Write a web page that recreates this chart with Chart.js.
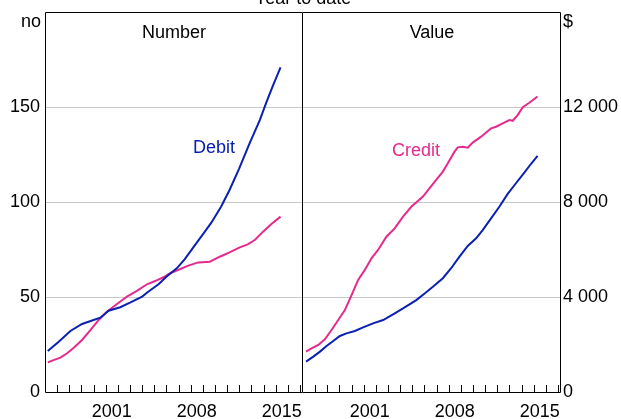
<!DOCTYPE html>
<html>
<head>
<meta charset="utf-8">
<script src="https://cdn.jsdelivr.net/npm/chart.js@4/dist/chart.umd.min.js"></script>
<style>
  html, body { margin: 0; padding: 0; background: #fff; }
  #wrap { position: relative; width: 621px; height: 419px; overflow: hidden; }
  #numCanvas { position: absolute; left: 0; top: 0; }
  #valCanvas { position: absolute; left: 303px; top: 0; }
</style>
</head>
<body>
<div id="wrap">
  <canvas id="numCanvas" width="303" height="419"></canvas>
  <canvas id="valCanvas" width="318" height="419"></canvas>
</div>
<script>
// Number of transactions, year to date (no)
const numDebitYears = [1996.23, 1997.13, 1998.09, 1999.05, 2000.0, 2000.56, 2001.24, 2002.2, 2003.0, 2004.0, 2004.5, 2005.35, 2006.0, 2006.85, 2007.5, 2008.2, 2009.0, 2009.7, 2010.5, 2011.2, 2012.0, 2012.85, 2013.7, 2014.2, 2014.8, 2015.4];
const numDebit = [21.6, 26.5, 32.1, 35.8, 37.9, 39.1, 42.8, 44.6, 47.0, 50.2, 52.8, 56.7, 60.7, 65.1, 69.8, 76.0, 83.0, 89.1, 97.5, 106.3, 117.7, 130.9, 143.2, 151.9, 161.6, 170.9];

const numCreditYears = [1996.23, 1996.7, 1997.27, 1997.82, 1998.37, 1999.05, 1999.74, 2000.42, 2001.1, 2001.93, 2002.75, 2003.57, 2004.4, 2005.07, 2005.76, 2006.3, 2007.1, 2007.8, 2008.63, 2009.58, 2010.4, 2011.2, 2012.0, 2012.7, 2013.28, 2013.96, 2014.65, 2015.4];
const numCredit = [15.6, 16.8, 18.1, 20.4, 23.3, 27.4, 32.6, 37.9, 42.3, 46.3, 50.2, 53.2, 56.7, 58.4, 60.4, 62.5, 64.6, 66.5, 68.2, 68.6, 71.2, 73.5, 76.0, 77.7, 80.0, 84.4, 88.4, 92.3];

// Value of transactions, year to date ($)
const valCreditYears = [1996.25, 1996.7, 1997.26, 1997.8, 1998.35, 1998.9, 1999.45, 2000.0, 2000.54, 2001.09, 2001.64, 2002.18, 2002.87, 2003.55, 2004.24, 2004.92, 2005.88, 2006.43, 2006.97, 2007.52, 2007.93, 2008.48, 2008.75, 2009.16, 2009.57, 2009.98, 2010.67, 2011.49, 2011.9, 2012.45, 2013.0, 2013.27, 2013.68, 2014.1, 2014.64, 2015.32];
const valCredit = [1700, 1840, 1980, 2220, 2610, 3030, 3450, 4080, 4720, 5140, 5630, 5980, 6540, 6890, 7380, 7800, 8230, 8580, 8930, 9280, 9630, 10120, 10300, 10330, 10290, 10500, 10750, 11100, 11170, 11310, 11450, 11420, 11660, 11990, 12180, 12440];

const valDebitYears = [1996.25, 1996.85, 1997.4, 1997.94, 1998.49, 1999.04, 1999.58, 2000.27, 2000.95, 2001.77, 2002.6, 2003.42, 2004.24, 2005.33, 2006.02, 2006.7, 2007.52, 2008.2, 2008.89, 2009.57, 2010.26, 2010.8, 2011.49, 2012.17, 2012.86, 2013.54, 2014.23, 2014.77, 2015.32];
const valDebit = [1280, 1490, 1700, 1940, 2150, 2360, 2470, 2570, 2720, 2890, 3030, 3270, 3520, 3870, 4150, 4430, 4790, 5210, 5700, 6150, 6470, 6820, 7310, 7800, 8340, 8790, 9240, 9600, 9940];

const yearLabels = [2001, 2008, 2015];
const yearMarks = [1997, 1998, 1999, 2000, 2001, 2002, 2003, 2004, 2005, 2006, 2007, 2008, 2009, 2010, 2011, 2012, 2013, 2014, 2015, 2016, 2017];

const BLUE = '#0a20b0';
const PINK = '#e62a8d';
const FONT = '"Liberation Sans", Arial, sans-serif';

function pairs(xs, ys) {
    return xs.map((x, i) => ({ x: x, y: ys[i] }));
}

function fmtThousands(v) {
    return String(v).replace(/\B(?=(\d{3})+(?!\d))/g, ' ');
}

// frame, inward year ticks and text labels
function panelPlugin(opts) {
    return {
        id: 'panel',
        afterDraw(chart) {
            const ctx = chart.ctx;
            const a = chart.chartArea;
            const xs = chart.scales.x;
            const l = Math.round(a.left) + 0.5;
            const r = Math.round(a.right) - 0.5;
            const t = Math.round(a.top) + 0.5;
            const b = Math.round(a.bottom) + 0.5;
            ctx.save();
            ctx.strokeStyle = '#000';
            ctx.lineWidth = 1;
            ctx.beginPath();
            if (opts.leftEdge) {
                ctx.moveTo(l, b);
                ctx.lineTo(l, t);
            } else {
                ctx.moveTo(l - 1, t);
            }
            ctx.lineTo(r, t);
            ctx.lineTo(r, b);
            ctx.lineTo(opts.leftEdge ? l : l - 1, b);
            yearMarks.forEach(y => {
                const px = Math.round(xs.getPixelForValue(y)) + 0.5;
                ctx.moveTo(px, a.bottom);
                ctx.lineTo(px, a.bottom - 7);
            });
            ctx.stroke();

            ctx.fillStyle = '#000';
            ctx.font = '18px ' + FONT;
            ctx.textBaseline = 'alphabetic';
            ctx.textAlign = 'center';
            ctx.fillText('Year to date', opts.titleX, 4);
            ctx.fillText(opts.panelTitle, (a.left + a.right) / 2, 38);

            ctx.textAlign = opts.unitAlign;
            ctx.fillText(opts.unit, opts.unitX, 27);

            ctx.textAlign = 'left';
            ctx.fillStyle = opts.seriesColor;
            ctx.fillText(opts.seriesLabel, opts.seriesX, opts.seriesY);
            ctx.restore();
        }
    };
}

function xAxis() {
    return {
        type: 'linear',
        min: 1996,
        max: 2017.25,
        grid: { display: false, drawTicks: false },
        border: { display: false },
        afterBuildTicks: axis => {
            axis.ticks = yearLabels.map(y => ({ value: y + 0.5 }));
        },
        afterFit: axis => {
            axis.height = 27;
            axis.paddingLeft = 0;
            axis.paddingRight = 0;
        },
        ticks: {
            autoSkip: false,
            maxRotation: 0,
            padding: 9,
            color: '#000',
            font: { family: FONT, size: 18 },
            callback: v => String(Math.floor(v))
        }
    };
}

function baseOptions() {
    return {
        responsive: false,
        animation: false,
        layout: { padding: { top: 12, left: 0, right: 0, bottom: 0 } },
        plugins: { legend: { display: false }, tooltip: { enabled: false } },
        elements: { point: { radius: 0 }, line: { borderWidth: 2, tension: 0 } }
    };
}

const numOptions = baseOptions();
numOptions.scales = {
    x: xAxis(),
    y: {
        position: 'left',
        min: 0,
        max: 200,
        grid: {
            drawTicks: false,
            color: c => (c.tick.value === 0 || c.tick.value === 200) ? 'rgba(0,0,0,0)' : '#c8c8c8',
            lineWidth: 1
        },
        border: { display: false },
        afterFit: axis => {
            axis.width = 45;
            axis.paddingTop = 0;
            axis.paddingBottom = 0;
        },
        ticks: {
            stepSize: 50,
            padding: 5,
            color: '#000',
            font: { family: FONT, size: 18 },
            callback: v => v === 200 ? '' : String(v)
        }
    }
};

new Chart(document.getElementById('numCanvas'), {
    type: 'line',
    data: {
        datasets: [
            { label: 'Debit', data: pairs(numDebitYears, numDebit), borderColor: BLUE },
            { label: 'Credit', data: pairs(numCreditYears, numCredit), borderColor: PINK }
        ]
    },
    options: numOptions,
    plugins: [panelPlugin({
        leftEdge: true, titleX: 303, panelTitle: 'Number', unit: 'no', unitAlign: 'right', unitX: 41,
        seriesLabel: 'Debit', seriesColor: BLUE, seriesX: 193, seriesY: 153
    })]
});

const valOptions = baseOptions();
valOptions.scales = {
    x: xAxis(),
    y: {
        position: 'right',
        min: 0,
        max: 16000,
        grid: {
            drawTicks: false,
            color: c => (c.tick.value === 0 || c.tick.value === 16000) ? 'rgba(0,0,0,0)' : '#c8c8c8',
            lineWidth: 1
        },
        border: { display: false },
        afterFit: axis => {
            axis.width = 60;
            axis.paddingTop = 0;
            axis.paddingBottom = 0;
        },
        ticks: {
            stepSize: 4000,
            padding: 2,
            color: '#000',
            font: { family: FONT, size: 18 },
            callback: v => v === 16000 ? '' : fmtThousands(v)
        }
    }
};

new Chart(document.getElementById('valCanvas'), {
    type: 'line',
    data: {
        datasets: [
            { label: 'Debit', data: pairs(valDebitYears, valDebit), borderColor: BLUE },
            { label: 'Credit', data: pairs(valCreditYears, valCredit), borderColor: PINK }
        ]
    },
    options: valOptions,
    plugins: [panelPlugin({
        leftEdge: false, titleX: 0, panelTitle: 'Value', unit: '$', unitAlign: 'left', unitX: 260,
        seriesLabel: 'Credit', seriesColor: PINK, seriesX: 89, seriesY: 156
    })]
});
</script>
</body>
</html>
